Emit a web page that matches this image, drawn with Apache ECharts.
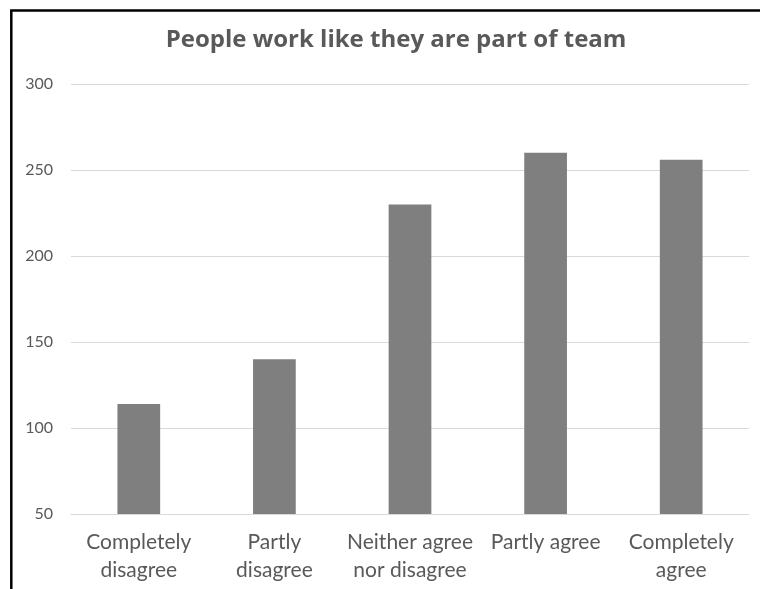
<!DOCTYPE html>
<html>
<head>
<meta charset="utf-8">
<script src="https://cdn.jsdelivr.net/npm/echarts@6/dist/echarts.min.js"></script>
<style>
html,body{margin:0;padding:0;background:#fff;}
#chart{width:760px;height:589px;}
</style>
</head>
<body>
<div id="chart"></div>
<script>
var titleText = 'People work like they are part of team';
var categories = ['Completely\ndisagree', 'Partly\ndisagree', 'Neither agree\nnor disagree', 'Partly agree', 'Completely\nagree'];
var counts = [114, 140, 230, 260, 256];
var yMin = 50, yMax = 300, yStep = 50;

var chart = echarts.init(document.getElementById('chart'), null, {renderer: 'canvas'});
chart.setOption({
  animation: false,
  backgroundColor: '#ffffff',
  title: {
    text: titleText,
    left: 391, top: 23,
    textAlign: 'center',
    textStyle: {fontFamily: 'Open Sans', fontWeight: 'bold', fontSize: 24, color: '#595959'}
  },
  graphic: [{
    type: 'polyline',
    shape: {points: [[11.3, 589], [11.3, 10.6], [760, 10.6]]},
    style: {stroke: '#000', lineWidth: 2.5, fill: null}
  }],
  grid: {left: 71, right: 11, top: 84, bottom: 75, containLabel: false},
  xAxis: {
    type: 'category',
    data: categories,
    axisLine: {show: true, lineStyle: {color: '#d9d9d9', width: 1}},
    axisTick: {show: false},
    axisLabel: {
      interval: 0, margin: 14,
      fontFamily: 'Lato', fontSize: 21, color: '#595959', lineHeight: 28
    }
  },
  yAxis: {
    type: 'value',
    min: yMin, max: yMax, interval: yStep,
    axisLine: {show: false},
    axisTick: {show: false},
    axisLabel: {margin: 18, fontFamily: 'Lato', fontSize: 16, color: '#595959'},
    splitLine: {lineStyle: {color: '#d9d9d9', width: 1}}
  },
  series: [{
    type: 'bar',
    data: counts,
    barWidth: '31.5%',
    itemStyle: {color: '#7f7f7f'}
  }]
});
</script>
</body>
</html>
